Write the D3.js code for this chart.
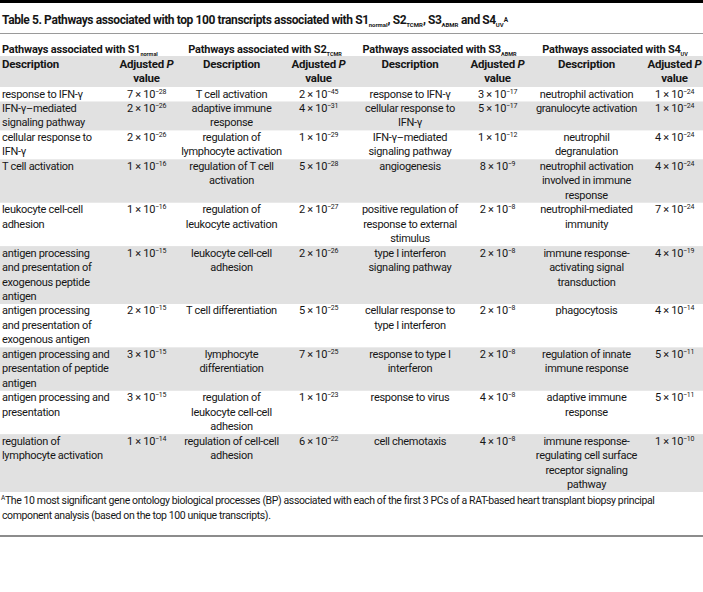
<!DOCTYPE html>
<html>
<head>
<meta charset="utf-8">
<script src="https://cdn.jsdelivr.net/npm/d3@7/dist/d3.min.js"></script>
<style>
  body { margin: 0; background: #fff; }
  svg { display: block; font-family: Roboto, "Noto Sans", sans-serif; }
</style>
</head>
<body>
<svg id="table5" width="703" height="592"></svg>
<script>
'use strict';

const groupNames = ['S1', 'S2', 'S3', 'S4'];
const groupSubs = ['normal', 'TCMR', 'ABMR', 'UV'];

// description text, line breaks as printed
const s1Terms = [
  'response to IFN-γ',
  'IFN-γ–mediated\nsignaling pathway',
  'cellular response to\nIFN-γ',
  'T cell activation',
  'leukocyte cell-cell\nadhesion',
  'antigen processing\nand presentation of\nexogenous peptide\nantigen',
  'antigen processing\nand presentation of\nexogenous antigen',
  'antigen processing and\npresentation of peptide\nantigen',
  'antigen processing and\npresentation',
  'regulation of\nlymphocyte activation',
];
const s2Terms = [
  'T cell activation',
  'adaptive immune\nresponse',
  'regulation of\nlymphocyte activation',
  'regulation of T cell\nactivation',
  'regulation of\nleukocyte activation',
  'leukocyte cell-cell\nadhesion',
  'T cell differentiation',
  'lymphocyte\ndifferentiation',
  'regulation of\nleukocyte cell-cell\nadhesion',
  'regulation of cell-cell\nadhesion',
];
const s3Terms = [
  'response to IFN-γ',
  'cellular response to\nIFN-γ',
  'IFN-γ–mediated\nsignaling pathway',
  'angiogenesis',
  'positive regulation of\nresponse to external\nstimulus',
  'type I interferon\nsignaling pathway',
  'cellular response to\ntype I interferon',
  'response to type I\ninterferon',
  'response to virus',
  'cell chemotaxis',
];
const s4Terms = [
  'neutrophil activation',
  'granulocyte activation',
  'neutrophil\ndegranulation',
  'neutrophil activation\ninvolved in immune\nresponse',
  'neutrophil-mediated\nimmunity',
  'immune response-\nactivating signal\ntransduction',
  'phagocytosis',
  'regulation of innate\nimmune response',
  'adaptive immune\nresponse',
  'immune response-\nregulating cell surface\nreceptor signaling\npathway',
];

// adjusted P values as [mantissa, exponent]
const s1P = [[7, -28], [2, -26], [2, -26], [1, -16], [1, -16], [1, -15], [2, -15], [3, -15], [3, -15], [1, -14]];
const s2P = [[2, -45], [4, -31], [1, -29], [5, -28], [2, -27], [2, -26], [5, -25], [7, -25], [1, -23], [6, -22]];
const s3P = [[3, -17], [5, -17], [1, -12], [8, -9], [2, -8], [2, -8], [2, -8], [2, -8], [4, -8], [4, -8]];
const s4P = [[1, -24], [1, -24], [4, -24], [4, -24], [7, -24], [4, -19], [4, -14], [5, -11], [5, -11], [1, -10]];

const footnote = [
  'The 10 most significant gene ontology biological processes (BP) associated with each of the first 3 PCs of a RAT-based heart transplant biopsy principal',
  'component analysis (based on the top 100 unique transcripts).',
];

// --- layout ---
const svg = d3.select('#table5');
const width = 703;
const ink = '#161616';
const band = '#e1e1e1';
const bodySize = 11;
const bodySpacing = -0.3;

const terms = [s1Terms, s2Terms, s3Terms, s4Terms];
const pvals = [s1P, s2P, s3P, s4P];

// column edges: desc, P for each group
const colEdges = [0, 115, 178, 285, 352, 468, 527, 646, 703];
const descMid = (g) => (colEdges[g * 2] + colEdges[g * 2 + 1]) / 2;
const pMid = (g) => (colEdges[g * 2 + 1] + colEdges[g * 2 + 2]) / 2;

const rows = d3.range(10).map((i) => {
  const lines = d3.max(terms, (t) => t[i].split('\n').length);
  return { i, lines };
});
let acc = 0;
rows.forEach((r) => { r.start = acc; acc += r.lines; });

const bodyTop = 87;
const bodyBottom = 492;
const y = d3.scaleLinear().domain([0, acc]).range([bodyTop, bodyBottom]);
const lineH = y(1) - y(0);

svg.append('rect').attr('width', width).attr('height', 592).attr('fill', '#fff');

// top black bar
svg.append('rect').attr('x', 0).attr('y', 0).attr('width', width).attr('height', 3).attr('fill', '#000');

// title
const title = svg.append('text')
  .attr('x', 2).attr('y', 24)
  .attr('font-size', 12).attr('font-weight', 700).attr('fill', ink)
  .attr('letter-spacing', -0.4);
title.append('tspan').text('Table 5. Pathways associated with top 100 transcripts associated with ');
groupNames.forEach((g, i) => {
  title.append('tspan').text(g);
  title.append('tspan').attr('font-size', 6).attr('letter-spacing', 0).attr('dy', 3).text(groupSubs[i]);
  const sep = i < 2 ? ', ' : (i === 2 ? ' and ' : '');
  title.append('tspan').attr('dy', -3).text(sep);
  if (i === 3) {
    title.append('tspan').attr('font-size', 6.5).attr('dy', -5).text('A');
  }
});

svg.append('line')
  .attr('x1', 0).attr('x2', width).attr('y1', 33.5).attr('y2', 33.5)
  .attr('stroke', '#9a9a9a').attr('stroke-width', 1);

// group headers
groupNames.forEach((g, i) => {
  const t = svg.append('text')
    .attr('x', i === 0 ? 2 : (colEdges[i * 2] + colEdges[i * 2 + 2]) / 2)
    .attr('y', 53)
    .attr('text-anchor', i === 0 ? 'start' : 'middle')
    .attr('font-size', 11).attr('font-weight', 700).attr('fill', ink)
    .attr('letter-spacing', -0.2);
  t.append('tspan').text(`Pathways associated with ${g}`);
  t.append('tspan').attr('font-size', 5.5).attr('letter-spacing', 0).attr('dy', 3).text(groupSubs[i]);
});

// column header band
svg.append('rect')
  .attr('x', 0).attr('y', 56).attr('width', width).attr('height', bodyTop - 56)
  .attr('fill', band);

groupNames.forEach((g, i) => {
  svg.append('text')
    .attr('x', i === 0 ? 2 : descMid(i)).attr('y', 68)
    .attr('text-anchor', i === 0 ? 'start' : 'middle')
    .attr('font-size', 11.5).attr('font-weight', 700).attr('fill', ink)
    .attr('letter-spacing', -0.2)
    .text('Description');
  const p = svg.append('text')
    .attr('x', pMid(i)).attr('y', 68)
    .attr('text-anchor', 'middle')
    .attr('font-size', 11.5).attr('font-weight', 700).attr('fill', ink)
    .attr('letter-spacing', -0.2);
  p.append('tspan').text('Adjusted ');
  p.append('tspan').attr('font-style', 'italic').text('P');
  svg.append('text')
    .attr('x', pMid(i)).attr('y', 82)
    .attr('text-anchor', 'middle')
    .attr('font-size', 11.5).attr('font-weight', 700).attr('fill', ink)
    .attr('letter-spacing', -0.2)
    .text('value');
});

// body row stripes (even rows shaded)
svg.selectAll('rect.stripe')
  .data(rows.filter((r) => r.i % 2 === 1))
  .join('rect')
  .attr('class', 'stripe')
  .attr('x', 0).attr('width', width)
  .attr('y', (r) => y(r.start))
  .attr('height', (r) => y(r.start + r.lines) - y(r.start))
  .attr('fill', band);

// descriptions and P values
groupNames.forEach((g, gi) => {
  const cells = svg.append('g').selectAll('text')
    .data(rows)
    .join('text')
    .attr('x', gi === 0 ? 2 : descMid(gi))
    .attr('y', (r) => y(r.start) + 10.5)
    .attr('text-anchor', gi === 0 ? 'start' : 'middle')
    .attr('font-size', bodySize).attr('letter-spacing', bodySpacing).attr('fill', ink);
  cells.selectAll('tspan')
    .data((r) => terms[gi][r.i].split('\n'))
    .join('tspan')
    .attr('x', gi === 0 ? 2 : descMid(gi))
    .attr('dy', (d, k) => (k === 0 ? 0 : lineH))
    .text((d) => d);

  const pv = svg.append('g').selectAll('text')
    .data(rows)
    .join('text')
    .attr('x', pMid(gi))
    .attr('y', (r) => y(r.start) + 10.5)
    .attr('text-anchor', 'middle')
    .attr('font-size', bodySize).attr('letter-spacing', bodySpacing).attr('fill', ink);
  pv.append('tspan').text((r) => `${pvals[gi][r.i][0]} × 10`);
  pv.append('tspan')
    .attr('font-size', 7).attr('dy', -4)
    .text((r) => `−${Math.abs(pvals[gi][r.i][1])}`);
});

// footnote
const fn = svg.append('text').attr('x', 1).attr('y', 504)
  .attr('font-size', 10.5).attr('letter-spacing', -0.38).attr('fill', ink);
fn.append('tspan').attr('font-size', 6.5).attr('dy', -4).text('A');
fn.append('tspan').attr('dy', 4).text(footnote[0]);
svg.append('text').attr('x', 2).attr('y', 519)
  .attr('font-size', 10.5).attr('letter-spacing', -0.38).attr('fill', ink)
  .text(footnote[1]);

svg.append('line')
  .attr('x1', 0).attr('x2', width).attr('y1', 536).attr('y2', 536)
  .attr('stroke', '#8c8c8c').attr('stroke-width', 2);
</script>
</body>
</html>
